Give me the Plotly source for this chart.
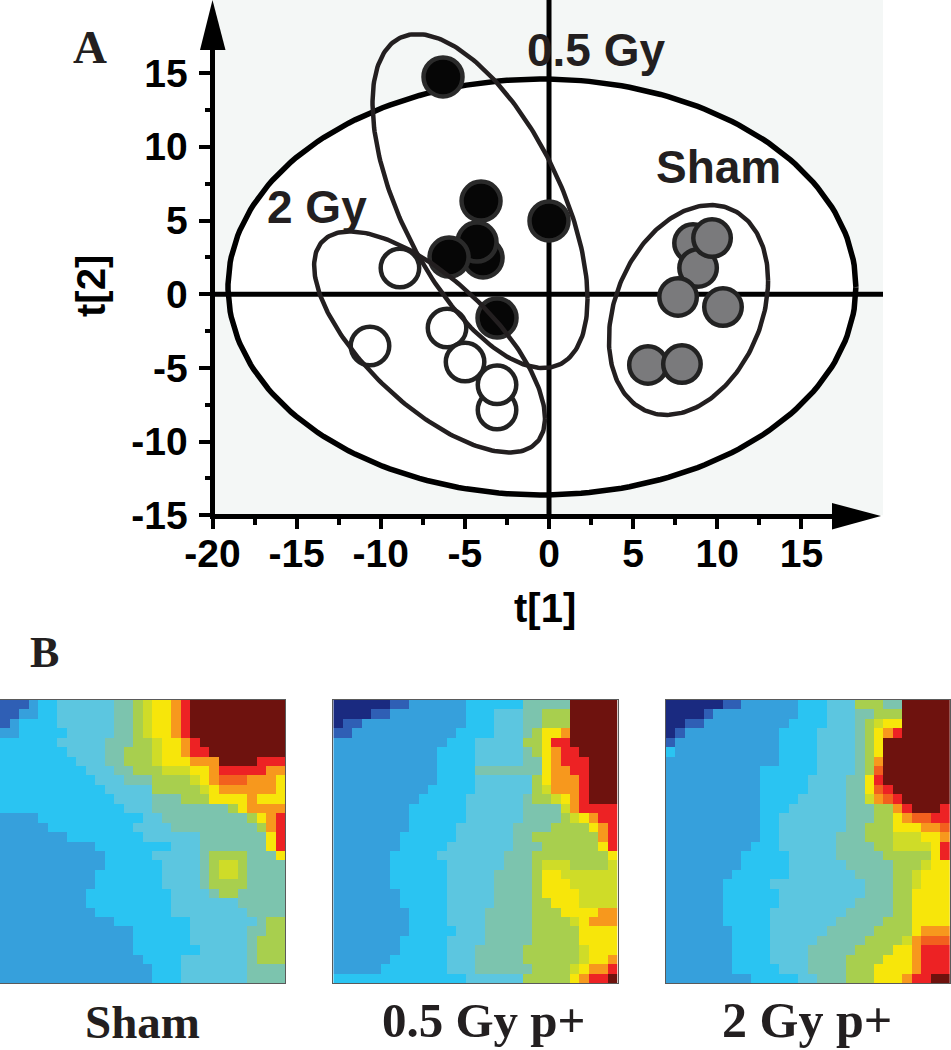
import numpy as np
import plotly.graph_objects as go

W, H = 951, 1050

# ---------- score plot data ----------
black_t1 = [-6.30, 0.00, -3.92, -4.04, -4.28, -5.94, -3.09]
black_t2 = [14.74, 4.97, 2.46, 6.32, 3.54, 2.52, -1.61]
white_t1 = [-8.86, -10.64, -6.06, -4.99, -3.09, -3.09]
white_t2 = [1.78, -3.51, -2.29, -4.60, -7.86, -6.15]
gray_t1 = [8.56, 8.86, 9.69, 7.67, 10.34, 5.88, 7.90]
gray_t2 = [3.47, 1.78, 3.81, -0.19, -0.87, -4.80, -4.74]

# centre t1, centre t2, half width, half height, correlation
hotelling = [-0.42, 0.49, 18.66, 14.11, 0.0]
ellipse_05 = [-4.10, 6.32, 6.39, 11.33, -0.586]
ellipse_2 = [-7.10, -3.24, 6.86, 7.50, -0.69]
ellipse_sham = [8.29, -1.07, 4.73, 7.12, 0.28]

x_ticks = [-20, -15, -10, -5, 0, 5, 10, 15]
y_ticks = [-15, -10, -5, 0, 5, 10, 15]
x_minor = [-17.5, -12.5, -7.5, -2.5, 2.5, 7.5, 12.5, 17.5]
y_minor = [-12.5, -7.5, -2.5, 2.5, 7.5, 12.5]

# ---------- heat map data: "level-lastcolumn" runs, one string per row ----------
level_colors = ["#1a2a80", "#2f5fb5", "#36a0dc", "#2ac4f2", "#5cc6e0", "#7cc4ae",
                "#a8cf4e", "#cfdc28", "#f7e60a", "#f7981d", "#ed2224", "#6e120e", "#f2601e"]
level_keys = "0123456789abc"

sham_rows = [
    "1-2 2-3 3-5 4-11 5-13 6-14 7-15 8-17 9-18 a-19 b-29",
    "1-1 2-3 3-5 4-11 5-13 6-14 7-15 8-17 9-18 a-19 b-29",
    "1-0 2-1 3-5 4-11 5-13 6-14 7-15 8-17 9-18 a-19 b-29",
    "2-1 3-6 4-11 5-13 6-14 7-15 8-17 9-18 a-19 b-29",
    "3-5 4-10 5-13 6-15 7-16 8-18 9-19 a-20 b-29",
    "3-6 4-10 5-12 6-15 7-16 8-18 9-19 a-21 b-29",
    "3-7 4-10 5-12 6-15 7-16 8-19 9-22 b-26 a-29",
    "3-8 4-11 5-13 6-16 7-19 8-21 9-22 a-27 9-29",
    "3-9 4-12 5-15 6-19 7-20 8-21 9-22 c-25 9-28 8-29",
    "3-10 4-15 6-20 7-21 8-22 9-28 8-29",
    "3-11 4-15 5-18 6-21 8-25 9-26 8-29",
    "3-12 4-15 5-23 6-24 8-25 9-29",
    "2-3 3-14 4-16 5-25 6-26 8-27 9-28 a-29",
    "2-4 3-13 4-17 5-26 6-27 9-28 a-29",
    "2-6 3-14 4-20 5-27 8-28 a-29",
    "2-9 3-17 4-20 5-27 8-28 a-29",
    "2-10 3-15 4-20 5-21 6-25 5-28 8-29",
    "2-10 3-16 4-20 5-21 6-22 7-24 6-25 5-29",
    "2-9 3-16 4-20 5-21 6-22 7-24 6-25 5-29",
    "2-9 3-16 4-20 5-21 6-25 5-29",
    "2-8 3-17 4-21 5-22 6-24 5-29",
    "2-8 3-17 4-24 5-29",
    "2-9 3-17 4-25 5-29",
    "2-11 3-19 4-26 5-27 6-29",
    "2-13 3-19 4-25 5-27 6-29",
    "2-13 3-19 4-25 5-26 6-29",
    "2-13 3-20 4-25 5-26 6-29",
    "2-14 3-18 4-25 5-26 6-29",
    "2-15 3-18 4-25 5-29",
    "2-15 3-18 4-25 5-29",
]
gy05_rows = [
    "0-5 1-7 2-13 3-19 5-24 b-29",
    "0-3 1-5 2-13 3-16 4-19 5-21 6-24 b-29",
    "0-0 1-2 2-13 3-16 4-19 5-21 6-24 b-29",
    "1-1 2-12 3-16 4-19 5-20 6-21 8-23 9-24 b-29",
    "2-11 3-14 4-19 6-21 8-22 a-24 b-29",
    "2-10 3-14 4-19 5-20 6-21 8-22 9-23 a-25 b-29",
    "2-10 3-14 4-19 5-21 8-22 9-23 a-26 b-29",
    "2-10 3-14 5-21 8-22 9-24 a-26 b-29",
    "2-10 3-14 4-20 6-21 8-22 9-25 a-26 b-29",
    "2-9 3-14 4-20 6-21 7-22 9-25 a-26 b-29",
    "2-8 3-13 4-19 5-20 6-22 7-23 8-24 9-25 a-26 b-29",
    "2-7 3-13 4-19 5-23 7-24 9-25 a-29",
    "2-7 3-13 4-19 5-23 6-24 7-25 8-26 9-27 a-29",
    "2-7 3-12 4-18 5-22 6-26 8-27 9-28 a-29",
    "2-6 3-12 4-18 5-20 6-27 9-28 a-29",
    "2-6 3-11 4-18 5-21 6-27 8-28 a-29",
    "2-5 3-10 4-17 5-20 6-28 8-29",
    "2-5 3-11 4-17 5-20 6-21 7-24 6-28 7-29",
    "2-5 3-11 4-16 5-20 6-21 8-23 7-29",
    "2-5 3-11 4-16 5-20 6-21 8-24 7-29",
    "2-6 3-11 4-16 5-20 6-21 8-25 7-29",
    "2-6 3-11 4-16 5-20 6-22 8-25 7-29",
    "2-7 3-11 4-15 5-20 6-23 8-27 9-29",
    "2-7 3-11 4-15 5-20 6-24 7-25 8-26 9-29",
    "2-7 3-12 4-15 5-20 6-25 8-29",
    "2-6 3-11 4-15 5-20 6-25 8-29",
    "2-6 3-11 4-14 5-19 6-25 7-26 8-29",
    "2-5 3-11 4-14 5-19 6-25 7-26 8-28 9-29",
    "2-4 3-11 4-14 5-20 6-24 7-25 8-26 9-28 a-29",
    "3-13 4-19 6-24 8-25 9-26 a-28 b-29",
]
gy2_rows = [
    "0-5 1-7 2-13 3-16 4-19 6-22 5-24 b-29",
    "0-3 1-4 2-13 3-16 4-19 5-21 6-24 b-29",
    "0-1 1-3 2-12 3-16 4-19 5-20 6-21 7-22 8-24 b-29",
    "0-0 1-1 2-11 3-15 4-19 5-20 6-21 8-22 9-23 a-24 b-29",
    "1-0 2-11 3-15 4-19 5-20 6-21 8-22 b-29",
    "3-0 2-11 3-15 4-19 5-20 6-21 8-22 b-29",
    "2-11 3-15 4-19 5-20 6-21 9-22 b-29",
    "2-9 3-15 4-19 5-20 6-21 c-22 b-29",
    "2-9 3-14 4-18 5-20 8-21 a-22 b-29",
    "2-9 3-14 4-18 5-20 8-21 c-22 a-23 b-29",
    "2-9 3-13 4-18 5-20 7-21 9-22 c-23 a-24 b-29",
    "2-9 3-12 4-18 5-21 6-23 9-24 a-25 b-28 a-29",
    "2-9 3-11 4-18 5-21 6-23 8-24 9-25 c-27 a-29",
    "2-9 3-11 4-18 5-20 6-23 8-26 9-28 c-29",
    "2-9 3-11 4-17 5-20 6-23 7-26 8-28 9-29",
    "2-8 3-11 4-17 5-21 6-23 7-27 8-28 a-29",
    "2-7 3-12 4-17 5-22 6-27 8-28 a-29",
    "2-7 3-12 4-18 5-23 6-26 7-27 8-29",
    "2-6 3-12 4-19 5-23 6-25 7-26 8-29",
    "2-5 3-10 4-20 5-23 6-25 7-26 8-29",
    "2-5 3-11 4-20 5-23 6-25 8-29",
    "2-5 3-11 4-19 5-23 6-25 8-29",
    "2-5 3-10 4-18 5-23 6-25 8-29",
    "2-5 3-10 4-17 5-22 6-25 8-29",
    "2-6 3-10 4-16 5-21 6-25 8-26 9-29",
    "2-6 3-10 4-15 5-20 6-24 7-25 9-26 c-29",
    "2-6 3-10 4-14 5-19 6-23 8-25 9-26 a-29",
    "2-6 3-10 4-14 5-18 6-22 8-25 9-26 a-29",
    "2-6 3-11 4-14 5-18 6-21 8-25 9-26 a-29",
    "2-8 3-13 4-15 5-18 6-21 8-24 9-25 a-27 b-29",
]

panel_titles = ["Sham", "0.5 Gy p+", "2 Gy p+"]


def decode(rows):
    grid = []
    for row in rows:
        cells, start = [], 0
        for tok in row.split():
            key, end = tok.split("-")
            cells += [level_keys.index(key)] * (int(end) + 1 - start)
            start = int(end) + 1
        assert len(cells) == 30, row
        grid.append(cells)
    return grid


def ellipse_xy(p, n=240):
    cx, cy, w, h, rho = p
    t = np.linspace(0, 2 * np.pi, n)
    return cx + w * np.cos(t), cy + h * (rho * np.cos(t) + np.sqrt(1 - rho ** 2) * np.sin(t))


def px(x):
    return x / W


def py(y):
    return 1 - y / H


INK = "#231f20"
fig = go.Figure()

ex, ey = ellipse_xy(hotelling)
fig.add_trace(go.Scatter(x=ex, y=ey, mode="lines", fill="toself", fillcolor="white",
                         line=dict(color="black", width=0), hoverinfo="skip"))
fig.add_trace(go.Scatter(x=[-20, 19.85], y=[0, 0], mode="lines", line=dict(color="black", width=5)))
fig.add_trace(go.Scatter(x=[0, 0], y=[-15, 20], mode="lines", line=dict(color="black", width=5)))
fig.add_trace(go.Scatter(x=ex, y=ey, mode="lines", line=dict(color="black", width=5.5)))


def dots(xs, ys, fill, edge, size):
    fig.add_trace(go.Scatter(x=xs, y=ys, mode="markers",
                             marker=dict(size=size, color=fill, line=dict(color=edge, width=4.5))))


dots(black_t1, black_t2, "#060606", "#2a2a2a", 39)
dots(white_t1, white_t2, "white", "#222222", 38.5)
dots(gray_t1, gray_t2, "#7a7a7c", "#222222", 37.5)

for e in (ellipse_05, ellipse_2, ellipse_sham):
    a, b = ellipse_xy(e)
    fig.add_trace(go.Scatter(x=a, y=b, mode="lines", line=dict(color=INK, width=4.5)))

# heat maps
panels = [(sham_rows, 0, 285), (gy05_rows, 333.3, 617.7), (gy2_rows, 665.7, 950)]
n_lv = len(level_colors)
cs = []
for i, c in enumerate(level_colors):
    cs += [[i / n_lv, c], [(i + 1) / n_lv, c]]
layout_axes = {}
for i, (rows, x0, x1) in enumerate(panels):
    k = i + 2
    fig.add_trace(go.Heatmap(z=decode(rows), xaxis=f"x{k}", yaxis=f"y{k}", colorscale=cs,
                             zmin=-0.5, zmax=n_lv - 0.5, showscale=False, hoverinfo="skip"))
    layout_axes[f"xaxis{k}"] = dict(domain=[px(x0), px(x1)], anchor=f"y{k}", showticklabels=False,
                                    ticks="", showgrid=False, zeroline=False, showline=True, automargin=False,
                                    mirror=True, linecolor="#5a5a5a", linewidth=1, range=[-0.5, 29.5])
    layout_axes[f"yaxis{k}"] = dict(domain=[py(983), py(700)], anchor=f"x{k}", showticklabels=False,
                                    ticks="", showgrid=False, zeroline=False, showline=True, automargin=False,
                                    mirror=True, linecolor="#5a5a5a", linewidth=1, range=[29.5, -0.5])

tick_font = dict(family="Liberation Sans", size=39, color="black", weight="bold")
minor_x = dict(tickvals=x_minor, ticks="outside", ticklen=9, tickwidth=4, tickcolor="black")
minor_y = dict(tickvals=y_minor, ticks="outside", ticklen=7, tickwidth=4, tickcolor="black")

shapes = [
    dict(type="line", xref="paper", yref="paper", x0=px(212.5), x1=px(212.5), y0=py(518), y1=py(40),
         line=dict(color="black", width=5)),
    dict(type="line", xref="paper", yref="paper", x0=px(210), x1=px(840), y0=py(516.5), y1=py(516.5),
         line=dict(color="black", width=5)),
    dict(type="path", xref="paper", yref="paper", fillcolor="black", line=dict(width=0),
         path=f"M {px(200)} {py(50)} L {px(225.5)} {py(50)} L {px(212.5)} {py(0)} Z"),
    dict(type="path", xref="paper", yref="paper", fillcolor="black", line=dict(width=0),
         path=f"M {px(832)} {py(503)} L {px(832)} {py(529.5)} L {px(881)} {py(516)} Z"),
]


def note(text, x, y, family, size, color=INK, angle=0, yanchor="middle"):
    return dict(text=f"<b>{text}</b>", x=px(x), y=py(y), xref="paper", yref="paper", showarrow=False,
                xanchor="center", yanchor=yanchor, textangle=angle,
                font=dict(family=family, size=size, color=color))


annotations = [
    note("A", 90, 47, "Liberation Serif", 47, "#231f20"),
    note("B", 44, 652, "Liberation Serif", 44, "#231f20"),
    note("0.5 Gy", 596, 50, "Liberation Sans", 46),
    note("Sham", 718, 167, "Liberation Sans", 46),
    note("2 Gy", 317, 207, "Liberation Sans", 46),
    note("t[1]", 545, 608, "Liberation Sans", 40, "black"),
    note("t[2]", 91, 286, "Liberation Sans", 40, "black", -90),
    note(panel_titles[0], 142, 1050, "Liberation Serif", 47, yanchor="bottom"),
    note(panel_titles[1], 484, 1050, "Liberation Serif", 49, yanchor="bottom"),
    note(panel_titles[2], 807, 1050, "Liberation Serif", 50, yanchor="bottom"),
]

fig.update_layout(
    width=W, height=H, autosize=False, margin=dict(l=0, r=0, t=0, b=0, pad=0),
    paper_bgcolor="white", plot_bgcolor="#f4f7f6", showlegend=False,
    xaxis=dict(domain=[px(212.5), px(883)], range=[-20, 19.85], anchor="y", showgrid=False, zeroline=False,
               showline=False, tickmode="array", tickvals=x_ticks, ticktext=[str(v) for v in x_ticks],
               ticks="outside", ticklen=13, tickwidth=4, tickcolor="black", tickfont=tick_font, minor=minor_x,
               tickangle=0, automargin=False, ticklabelstandoff=-9),
    yaxis=dict(domain=[py(515.3), 1], range=[-15, 19.96], anchor="x", showgrid=False, zeroline=False,
               showline=False, tickmode="array", tickvals=y_ticks, ticktext=[str(v) for v in y_ticks],
               ticks="outside", ticklen=13, tickwidth=4, tickcolor="black", tickfont=tick_font, minor=minor_y,
               automargin=False, ticklabelstandoff=3),
    shapes=shapes, annotations=annotations, **layout_axes,
)

fig.write_html("out.html", config={"displayModeBar": False},
               post_script="document.body.style.margin='0';")
